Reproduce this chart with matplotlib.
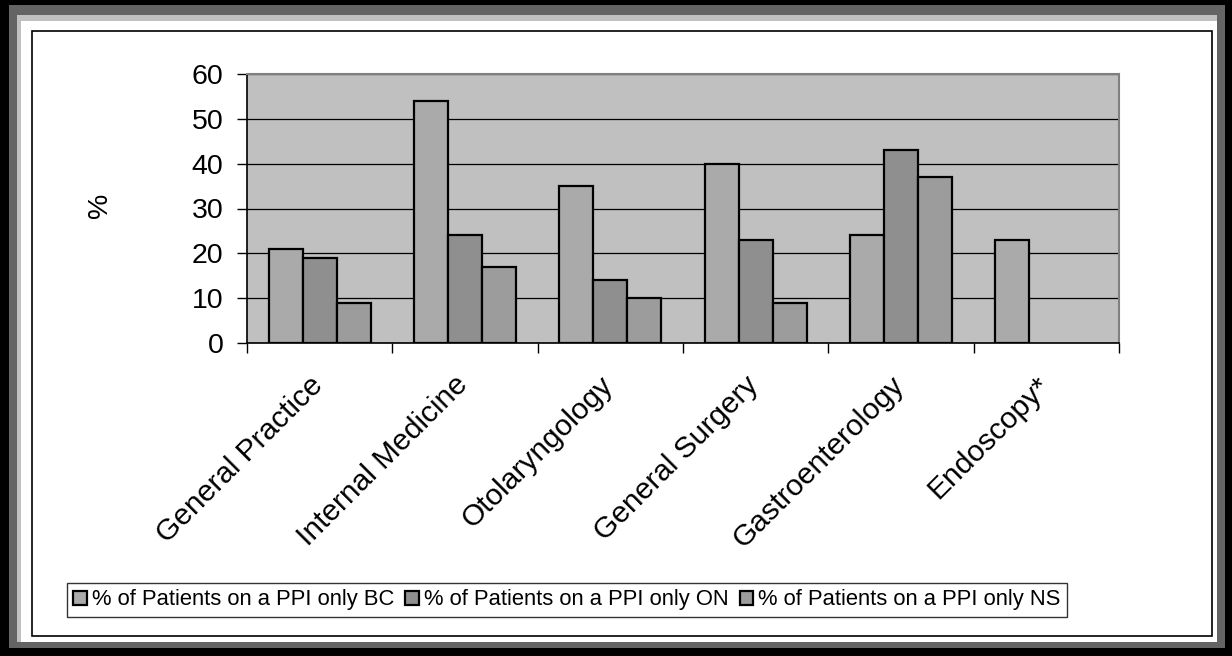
import numpy as np
import matplotlib
matplotlib.use("Agg")
import matplotlib.pyplot as plt
import matplotlib.transforms as mtransforms
from matplotlib.patches import Rectangle, Patch

plt.rcParams['font.family'] = ['Liberation Sans', 'DejaVu Sans']

categories = ["General Practice", "Internal Medicine", "Otolaryngology",
              "General Surgery", "Gastroenterology", "Endoscopy*"]
series_names = ["% of Patients on a PPI only BC",
                "% of Patients on a PPI only ON",
                "% of Patients on a PPI only NS"]
bc = [21, 54, 35, 40, 24, 23]
on = [19, 24, 14, 23, 43, np.nan]
ns = [9, 17, 10, 9, 37, np.nan]
y_ticks = [0, 10, 20, 30, 40, 50, 60]

colors = ["#aaaaaa", "#8f8f8f", "#9c9c9c"]

W, H = 1232, 656
fig = plt.figure(figsize=(W / 100, H / 100), dpi=100)


def frect(x0, y0, x1, y1, **kw):
    """Rectangle given in pixel coordinates (origin top-left)."""
    r = Rectangle((x0 / W, 1 - y1 / H), (x1 - x0) / W, (y1 - y0) / H,
                  transform=fig.transFigure, **kw)
    fig.add_artist(r)


# picture-frame border
frect(0, 0, W, H, facecolor="black", edgecolor="none", zorder=0)
frect(9, 5, 1225, 648, facecolor="#646464", edgecolor="none", zorder=0)
frect(17, 15, 1217, 642, facecolor="#c0c0c0", edgecolor="none", zorder=0)
frect(21, 21, 1217, 642, facecolor="white", edgecolor="none", zorder=0)
frect(32, 31, 1212, 636, facecolor="none", edgecolor="black", linewidth=1.2, zorder=1)

ax = fig.add_axes([247 / W, 1 - 343 / H, (1119 - 247) / W, (343 - 74) / H])
ax.set_facecolor("#c0c0c0")

x = np.arange(len(categories))
bw = 0.7 / 3
for k, (vals, col) in enumerate(zip([bc, on, ns], colors)):
    for xi, v in zip(x, vals):
        if np.isnan(v):
            continue
        ax.bar(xi + (k - 1) * bw, v, width=bw, color=col, edgecolor="black",
               linewidth=1.6, zorder=3)

ax.set_xlim(-0.5, len(categories) - 0.5)
ax.set_ylim(0, 60)
ax.set_yticks(y_ticks)
ax.yaxis.grid(True, color="black", linewidth=0.9, zorder=1)
ax.set_axisbelow(True)
ax.tick_params(axis="y", labelsize=20.5, length=7, width=1, direction="out", pad=10)

ax.set_xticks(np.arange(len(categories) + 1) - 0.5)
ax.set_xticklabels([])
ax.tick_params(axis="x", which="major", length=7, width=1, direction="out")
ax.set_xticks(x, minor=True)
ax.set_xticklabels(categories, minor=True, rotation=45, ha="right",
                   rotation_mode="anchor", fontsize=21.5)
ax.tick_params(axis="x", which="minor", length=0, pad=20)
shift = mtransforms.ScaledTranslation(-11 / 100, 0, fig.dpi_scale_trans)
for lbl in ax.get_xticklabels(minor=True):
    lbl.set_transform(lbl.get_transform() + shift)

for s in ["top", "right"]:
    ax.spines[s].set_color("#808080")
    ax.spines[s].set_linewidth(1.5)
for s in ["left", "bottom"]:
    ax.spines[s].set_color("black")
    ax.spines[s].set_linewidth(1.2)

fig.text(100 / W, 1 - 205 / H, "%", rotation=90, fontsize=20.5,
         ha="center", va="center")

handles = [Patch(facecolor=c, edgecolor="black", linewidth=1.6) for c in colors]
leg = fig.legend(handles, series_names, loc="center",
                 bbox_to_anchor=(567 / W, 1 - 600 / H), ncol=3, fontsize=15.8,
                 frameon=True, fancybox=False, handlelength=0.6, handleheight=0.6,
                 handletextpad=0.25, columnspacing=0.5, borderpad=0.3,
                 borderaxespad=0)
leg.get_frame().set_edgecolor("black")
leg.get_frame().set_linewidth(1.0)

fig.savefig("out.png", dpi=100)
